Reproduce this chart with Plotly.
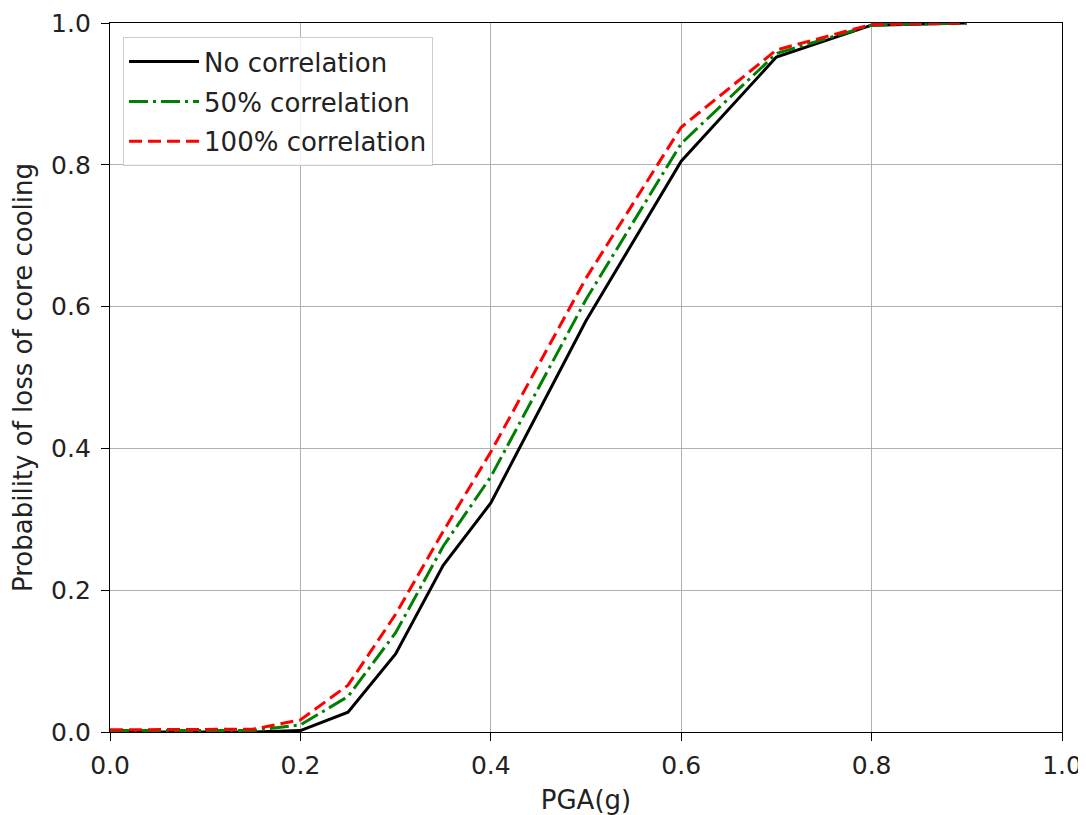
import plotly.graph_objects as go

pga = [0.0, 0.05, 0.1, 0.15, 0.2, 0.25, 0.3, 0.35, 0.4, 0.5, 0.6, 0.7, 0.8, 0.9]
no_corr = [0.0, 0.0, 0.0, 0.0, 0.002, 0.028, 0.11, 0.235, 0.323, 0.58, 0.805, 0.952, 0.997, 1.0]
corr_50 = [0.002, 0.002, 0.002, 0.002, 0.01, 0.05, 0.14, 0.262, 0.36, 0.61, 0.83, 0.957, 0.997, 1.0]
corr_100 = [0.003, 0.003, 0.003, 0.004, 0.017, 0.066, 0.166, 0.283, 0.395, 0.64, 0.853, 0.962, 0.998, 1.0]

series_names = ["No correlation", "50% correlation", "100% correlation"]

fig = go.Figure()
fig.add_trace(go.Scatter(x=pga, y=no_corr, mode="lines", name=series_names[0], legendgroup="a",
                         line=dict(color="black", width=3)))
fig.add_trace(go.Scatter(x=pga, y=corr_50, mode="lines", name=series_names[1], legendgroup="b",
                         line=dict(color="green", width=3, dash="19px,5px,3px,5px")))
fig.add_trace(go.Scatter(x=pga, y=corr_100, mode="lines", name=series_names[2], legendgroup="c",
                         line=dict(color="red", width=3, dash="13px,6px")))

axis_common = dict(
    showline=True, linecolor="black", linewidth=1.3, mirror=True,
    ticks="outside", ticklen=8, tickwidth=1.3, tickcolor="black",
    showgrid=True, gridcolor="#b0b0b0", gridwidth=1.3,
    zeroline=False, tickformat=".1f", dtick=0.2, automargin=False,
    tickfont=dict(family="DejaVu Sans", size=25, color="#222"),
)

fig.update_layout(
    width=1078, height=807,
    margin=dict(l=102, r=24, t=15, b=83),
    paper_bgcolor="white", plot_bgcolor="white",
    font=dict(family="DejaVu Sans", size=25, color="#222"),
    xaxis=dict(range=[0, 1], ticklabelstandoff=3,
               title=dict(text="PGA(g)", font=dict(size=26), standoff=12), **axis_common),
    yaxis=dict(range=[0, 1], ticklabelstandoff=5,
               title=dict(text="Probability of loss of core cooling", font=dict(size=26), standoff=16), **axis_common),
    legend=dict(x=0.0137, y=0.98, xanchor="left", yanchor="top",
                bgcolor="rgba(255,255,255,0.85)", bordercolor="#cccccc", borderwidth=1,
                font=dict(family="DejaVu Sans", size=26, color="#222"),
                itemwidth=70, tracegroupgap=3),
    showlegend=True,
)

fig.write_html("out.html")
